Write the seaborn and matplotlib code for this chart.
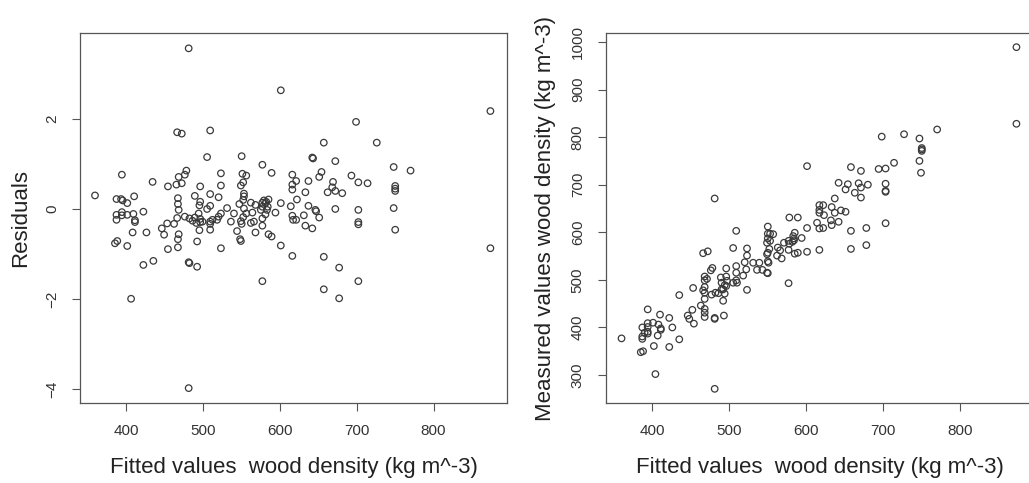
import numpy as np
import pandas as pd
import matplotlib
matplotlib.use("Agg")
import matplotlib.pyplot as plt
import seaborn as sns

# ─── DATA ─────────────────────────────────────────────────────────────────────
# left panel: fitted values vs residuals
res_fitted = [
    481, 601, 874, 699, 466, 472, 509, 657, 726, 505, 550, 642, 643, 672, 577,
    748, 770, 394, 478, 476, 468, 523, 551, 556, 589, 616, 654, 651, 693, 434,
    465, 472, 454, 496, 523, 549, 552, 616, 621, 637, 616, 669, 668, 702, 714,
    750, 750, 750, 662, 672, 681, 633, 359, 410, 387, 393, 395, 401, 467, 489,
    509, 520, 496, 467, 468, 495, 509, 505, 531, 553, 553, 552, 547, 553, 562,
    568, 577, 579, 582, 585, 581, 577, 584, 575, 583, 601, 614, 622, 637, 672,
    748, 702, 646, 647, 394, 387, 394, 401, 409, 387, 411, 411, 422, 408, 426,
    385, 388, 401, 406, 422, 435, 446, 449, 453, 462, 454, 466, 468, 467, 467,
    476, 482, 486, 491, 489, 494, 496, 496, 495, 499, 492, 492, 481, 482, 481,
    509, 509, 509, 512, 518, 520, 523, 523, 536, 540, 544, 549, 550, 552, 556,
    548, 549, 564, 562, 566, 568, 577, 577, 581, 585, 589, 594, 577, 601, 616,
    617, 621, 631, 633, 642, 651, 616, 657, 657, 677, 677, 702, 702, 702, 750,
    874,
]
residuals = [
    3.56, 2.63, 2.17, 1.93, 1.70, 1.67, 1.74, 1.47, 1.47, 1.15, 1.17, 1.14, 1.12, 1.06, 0.98,
    0.93, 0.85, 0.76, 0.85, 0.76, 0.71, 0.79, 0.78, 0.74, 0.80, 0.76, 0.82, 0.71, 0.74, 0.60,
    0.54, 0.57, 0.50, 0.50, 0.52, 0.52, 0.59, 0.54, 0.62, 0.62, 0.43, 0.60, 0.48, 0.59, 0.57,
    0.51, 0.45, 0.40, 0.37, 0.40, 0.35, 0.37, 0.30, 0.28, 0.22, 0.22, 0.19, 0.13, 0.24, 0.29,
    0.33, 0.26, 0.16, 0.11, -0.02, 0.08, 0.07, 0.00, 0.02, 0.34, 0.28, 0.20, 0.11, 0.01, 0.14,
    0.09, 0.14, 0.19, 0.16, 0.21, 0.13, 0.05, 0.05, -0.02, -0.02, 0.13, 0.06, 0.21, 0.07, 0.00,
    0.02, -0.02, -0.02, -0.05, -0.07, -0.13, -0.14, -0.13, -0.11, -0.24, -0.25, -0.29, -0.06, -0.52, -0.52,
    -0.76, -0.71, -0.82, -1.99, -1.24, -1.15, -0.43, -0.57, -0.32, -0.33, -0.89, -0.20, -0.56, -0.67, -0.85,
    -0.17, -0.21, -0.26, -0.31, -0.19, -0.10, -0.22, -0.29, -0.47, -0.28, -0.72, -1.28, -1.18, -1.20, -3.97,
    -0.33, -0.46, -0.28, -0.24, -0.24, -0.17, -0.10, -0.87, -0.28, -0.10, -0.49, -0.27, -0.33, -0.18, -0.10,
    -0.67, -0.71, -0.08, -0.31, -0.28, -0.52, -0.21, -0.37, -0.12, -0.56, -0.61, -0.08, -1.60, -0.81, -0.15,
    -0.24, -0.24, -0.14, -0.37, -0.43, -0.19, -1.04, -1.06, -1.78, -1.30, -1.98, -0.29, -0.34, -1.60, -0.46,
    -0.87,
]

# right panel: fitted values vs measured values
meas_fitted = [
    873, 873, 770, 727, 698, 747, 750, 750, 750, 747, 749, 714, 694, 703, 658,
    671, 601, 642, 654, 668, 671, 680, 651, 663, 703, 703, 703, 671, 637, 617,
    622, 617, 617, 633, 637, 645, 651, 623, 632, 642, 633, 614, 617, 622, 601,
    658, 678, 703, 658, 678, 617, 601, 578, 589, 585, 594, 583, 584, 584, 582,
    577, 578, 571, 563, 566, 568, 562, 577, 585, 589, 577, 550, 550, 553, 557,
    550, 553, 549, 552, 550, 549, 550, 551, 549, 550, 543, 536, 539, 531, 523,
    523, 520, 522, 518, 523, 509, 505, 509, 509, 509, 510, 505, 496, 496, 497,
    496, 489, 490, 494, 492, 494, 486, 490, 492, 493, 478, 476, 472, 466, 468,
    471, 468, 468, 468, 466, 477, 482, 468, 468, 468, 468, 463, 481, 481, 481,
    481, 453, 452, 446, 448, 454, 435, 435, 422, 422, 426, 410, 411, 411, 408,
    407, 401, 402, 394, 394, 394, 387, 387, 387, 390, 394, 394, 385, 388, 404,
    360,
]
measured = [
    989, 828, 816, 806, 801, 797, 777, 774, 771, 750, 725, 746, 733, 734, 737,
    729, 739, 704, 701, 703, 694, 700, 690, 683, 702, 687, 685, 673, 671, 657,
    657, 647, 641, 653, 641, 646, 643, 636, 625, 622, 615, 620, 608, 609, 609,
    603, 609, 619, 565, 573, 563, 559, 631, 631, 599, 588, 592, 587, 583, 580,
    582, 576, 578, 568, 562, 545, 551, 563, 555, 557, 493, 612, 597, 597, 596,
    587, 582, 578, 565, 557, 554, 539, 536, 515, 514, 521, 521, 536, 536, 566,
    551, 537, 522, 509, 479, 603, 567, 529, 515, 499, 494, 494, 524, 507, 498,
    487, 505, 494, 489, 480, 471, 472, 480, 456, 425, 525, 520, 560, 556, 507,
    502, 499, 485, 473, 478, 469, 473, 460, 439, 431, 422, 446, 420, 418, 671,
    271, 483, 437, 425, 418, 408, 468, 375, 420, 359, 400, 427, 398, 395, 406,
    383, 410, 361, 438, 409, 401, 400, 381, 376, 389, 391, 387, 348, 350, 302,
    377,
]

x_label = "Fitted values  wood density (kg m^-3)"
x_ticks = [400, 500, 600, 700, 800]
res_ticks = [-4, -2, 0, 2]
meas_ticks = [300, 400, 500, 600, 700, 800, 900, 1000]

# ─── STYLE ────────────────────────────────────────────────────────────────────
sns.set_theme(style="ticks")
plt.rcParams["font.family"] = ["Liberation Sans", "DejaVu Sans"]
EDGE = "#3a3a3a"
TICK_SIZE = 11
LABEL_SIZE = 16


def r_style(ax, xlim, ylim, yticks):
    ax.set_xlim(*xlim)
    ax.set_ylim(*ylim)
    ax.set_xticks(x_ticks)
    ax.set_yticks(yticks)
    for sp in ax.spines.values():
        sp.set_visible(True)
        sp.set_color("#555555")
        sp.set_linewidth(0.9)
    ax.tick_params(axis="both", direction="out", length=6, width=0.8,
                   color="#555555", labelsize=TICK_SIZE, labelcolor="#333333",
                   pad=9)
    ax.tick_params(axis="y", labelrotation=90)
    for lab in ax.get_yticklabels():
        lab.set_va("center")
    ax.set_facecolor("white")


def draw(ax, x, y):
    df = pd.DataFrame({"x": x, "y": y})
    sns.scatterplot(data=df, x="x", y="y", ax=ax, marker="o", s=22,
                    facecolor="none", edgecolor=EDGE, linewidth=0.9, legend=False)


fig = plt.figure(figsize=(10.29, 4.83), dpi=100)
fig.patch.set_facecolor("white")

ax1 = fig.add_axes([0.0777, 0.1656, 0.4150, 0.7661])
draw(ax1, res_fitted, residuals)
r_style(ax1, (339.4, 895.6), (-4.30, 3.90), res_ticks)
ax1.set_xlabel(x_label, fontsize=LABEL_SIZE, color="#222222", labelpad=14)
ax1.set_ylabel("Residuals", fontsize=LABEL_SIZE, color="#222222", labelpad=10)

ax2 = fig.add_axes([0.5886, 0.1656, 0.4161, 0.7661])
draw(ax2, meas_fitted, measured)
r_style(ax2, (339.4, 895.6), (241.2, 1018.8), meas_ticks)
ax2.set_xlabel(x_label, fontsize=LABEL_SIZE, color="#222222", labelpad=14)
ax2.set_ylabel("Measured values wood density (kg m^-3)", fontsize=LABEL_SIZE,
               color="#222222", labelpad=11)

fig.savefig("out.png", dpi=100, facecolor="white")
